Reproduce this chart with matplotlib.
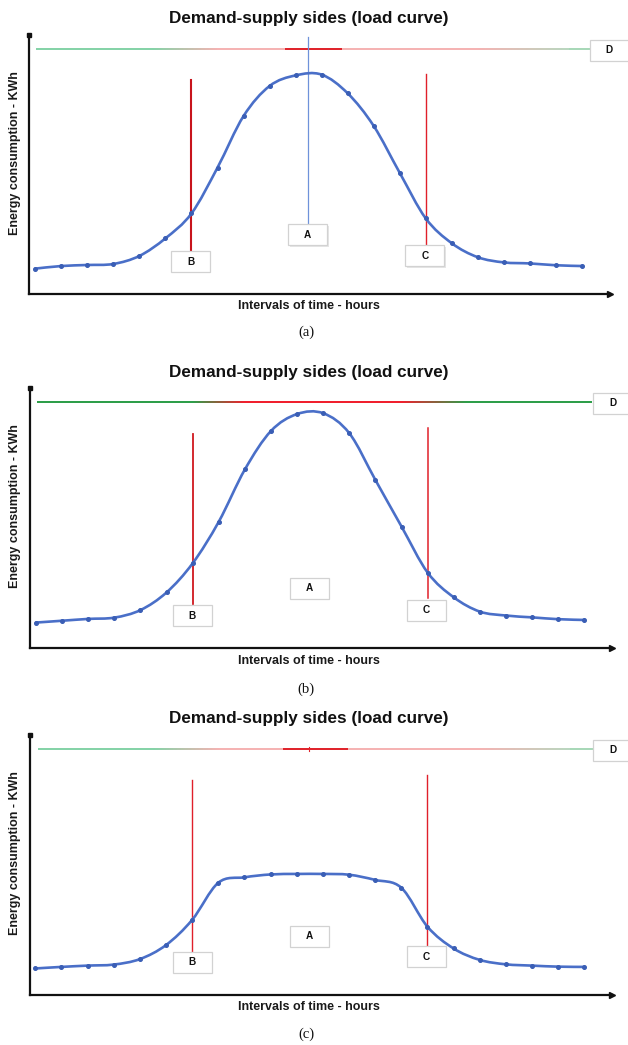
import numpy as np
import matplotlib
matplotlib.use("Agg")
import matplotlib.pyplot as plt
from matplotlib.patches import Rectangle, PathPatch
from matplotlib.path import Path
from matplotlib.transforms import ScaledTranslation
from matplotlib.colors import to_rgb

# ---------------- data ----------------
hours = list(range(22))
load_a = [9.8, 10.8, 11.2, 11.6, 14.7, 21.5, 31.1, 48.8, 68.7, 80.3, 84.4,
          84.7, 77.5, 64.9, 46.8, 29.2, 19.6, 14.2, 12.2, 11.8, 11.1, 10.8]
load_b = [9.9, 10.6, 11.3, 11.8, 14.7, 21.5, 32.7, 48.7, 68.8, 83.6, 90.1,
          90.4, 82.7, 64.7, 46.8, 29.1, 19.6, 14.1, 12.6, 11.9, 11.2, 10.9]
load_c = [10.1, 10.7, 11.2, 11.6, 13.7, 19.1, 28.8, 43.1, 45.2, 46.3, 46.5,
          46.5, 46.2, 44.2, 41.2, 26.2, 17.8, 13.4, 11.7, 11.2, 10.8, 10.7]
supply_level = 94.6
b_pos, c_pos, a_pos = 6.0, 15.0, 10.47
labels = ["A", "B", "C", "D"]
subcaptions = ["(a)", "(b)", "(c)"]
title = "Demand-supply sides (load curve)"
xlabel = "Intervals of time - hours"
ylabel = "Energy consumption - KWh"

W, H = 628, 1045
fig = plt.figure(figsize=(W / 100, H / 100), dpi=100)
fig.patch.set_facecolor("white")

BLUE = "#4a6fc8"

panels = [
    dict(load=load_a, px=(28.8, 609.5, 35, 294), xlim=(-0.25, 22.06),
         title_y=18, xl_y=306, cap_y=332, strong=False, aline=True,
         dline=(0.03, 21.28), red=(9.6, 11.8), tick=False,
         bline=(82.6, 17.0, 1.5, "#c8141c"), cline=(84.9, 18.9, 1.0, "#e0202a"),
         boxes=dict(A=(10.47, 22.8), B=(5.97, 12.5), C=(14.97, 14.7), D=(22.05, 94.2))),
    dict(load=load_b, px=(30, 611.5, 388.3, 648.3), xlim=(-0.23, 22.04),
         title_y=372, xl_y=661, cap_y=689, strong=True, aline=False,
         dline=(0.05, 21.29), red=(8.0, 14.0), tick=False,
         bline=(82.4, 17.1, 1.3, "#d0181f"), cline=(84.6, 19.2, 1.1, "#e0202a"),
         boxes=dict(A=(10.48, 23.1), B=(5.98, 12.6), C=(14.95, 14.7), D=(22.09, 94.2))),
    dict(load=load_c, px=(30, 611.5, 735, 994.7), xlim=(-0.2, 22.04),
         title_y=718, xl_y=1007, cap_y=1034, strong=False, aline=False,
         dline=(0.1, 21.36), red=(9.45, 11.95), tick=True,
         bline=(82.7, 16.9, 1.0, "#e0202a"), cline=(84.6, 19.1, 1.0, "#e0202a"),
         boxes=dict(A=(10.49, 22.6), B=(6.0, 12.5), C=(14.96, 14.6), D=(22.09, 94.2))),
]


def lerp(c1, c2, t):
    a, b = np.array(to_rgb(c1)), np.array(to_rgb(c2))
    return a + (b - a) * t


def smooth_path(xs, ys):
    """Catmull-Rom style smooth line through the points (bezier rendering)."""
    P = np.column_stack([xs, ys]).astype(float)
    n = len(P)
    verts = [P[0]]
    codes = [Path.MOVETO]
    for i in range(n - 1):
        p0 = P[i - 1] if i > 0 else P[i]
        p1, p2 = P[i], P[i + 1]
        p3 = P[i + 2] if i + 2 < n else P[i + 1]
        c1 = p1 + (p2 - p0) / 6.0
        c2 = p2 - (p3 - p1) / 6.0
        verts += [c1, c2, p2]
        codes += [Path.CURVE4] * 3
    return Path(verts, codes)


for k, p in enumerate(panels):
    l, r, t, b = p["px"]
    ax = fig.add_axes([l / W, 1 - b / H, (r - l) / W, (b - t) / H])
    ax.set_xlim(*p["xlim"])
    ax.set_ylim(0, 100)
    ax.set_xticks([])
    ax.set_yticks([])
    for s in ["top", "right"]:
        ax.spines[s].set_visible(False)
    for s in ["left", "bottom"]:
        ax.spines[s].set_linewidth(1.6)
        ax.spines[s].set_color("#111111")
    ax.patch.set_alpha(0)
    ax.plot([1.0], [0.0], marker=">", ms=4.5, color="#111111",
            transform=ax.transAxes, clip_on=False)
    ax.plot([0.0], [1.0], marker="s", ms=2.2, color="#111111",
            transform=ax.transAxes, clip_on=False)

    # supply level line D with colour gradient (drawn as a thin image strip)
    x0, x1 = p["dline"]
    xs = np.linspace(x0, x1, 400)
    r0, r1 = p["red"]
    cols = []
    for xm in xs:
        if p["strong"]:
            g, rd = "#2e9e4a", "#f0202e"
            if xm < 6.0 or xm > 16.5:
                c = lerp(g, g, 0)
            elif xm < 8.0:
                c = lerp(g, rd, (xm - 6.0) / 2.0)
            elif xm <= 14.0:
                c = lerp(rd, rd, 0)
            else:
                c = lerp(rd, g, (xm - 14.0) / 2.5)
        else:
            g, pk, rd = "#86d3a8", "#f5b3b3", "#e0252d"
            if r0 <= xm <= r1:
                c = lerp(rd, rd, 0)
            elif xm < 4.5:
                c = lerp(g, g, 0)
            elif xm < 7.0:
                c = lerp(g, pk, (xm - 4.5) / 2.5)
            elif xm < 17.0:
                c = lerp(pk, pk, 0)
            elif xm < 20.5:
                c = lerp(pk, "#b8d8c0", (xm - 17.0) / 3.5)
            else:
                c = lerp("#a8d8b8", "#a8d8b8", 0)
        cols.append(c)
    strip = np.array(cols)[None, :, :]
    half = (1.0 if p["strong"] else 0.55) * 100 / (b - t)
    ax.imshow(strip, extent=(x0, x1, supply_level - half, supply_level + half),
              aspect="auto", interpolation="nearest", zorder=2)
    if p["tick"]:
        ax.plot([a_pos, a_pos], [supply_level - 0.6, supply_level + 0.6],
                color="#e0252d", lw=0.8)

    if p["aline"]:
        ax.plot([a_pos, a_pos], [99.4, 27.5], color="#6f92da", lw=0.9)

    y0, y1, lw, col = p["bline"]
    ax.plot([b_pos, b_pos], [y0, y1], color=col, lw=lw)
    y0, y1, lw, col = p["cline"]
    ax.plot([c_pos, c_pos], [y0, y1], color=col, lw=lw)

    # load curve (smooth line + point markers)
    ax.add_patch(PathPatch(smooth_path(hours, p["load"]), facecolor="none",
                           edgecolor=BLUE, lw=1.9, capstyle="round",
                           joinstyle="round", zorder=5))
    ax.plot(hours, p["load"], linestyle="none", marker="o", ms=2.6,
            mfc="#3a5eb5", mec="#3a5eb5", zorder=6)

    bw, bh = 39 / 100, 21 / 100
    for name in labels:
        bx, by = p["boxes"][name]
        off = ScaledTranslation(bx, by, ax.transData)
        shadow = Rectangle((-bw / 2 + 0.012, -bh / 2 - 0.012), bw, bh,
                           transform=fig.dpi_scale_trans + off,
                           facecolor="#e6e6e6", edgecolor="none",
                           clip_on=False, zorder=7)
        rect = Rectangle((-bw / 2, -bh / 2), bw, bh,
                         transform=fig.dpi_scale_trans + off,
                         facecolor="white", edgecolor="#d2d2d2", lw=0.9,
                         clip_on=False, zorder=8)
        ax.add_patch(shadow)
        ax.add_patch(rect)
        ax.text(bx, by, name, ha="center", va="center", fontsize=7.2,
                fontweight="bold", family="Liberation Sans", color="#111111",
                zorder=9, clip_on=False)

    ax.set_xlim(*p["xlim"])
    ax.set_ylim(0, 100)

    fig.text(309 / W, 1 - p["title_y"] / H, title, ha="center", va="center",
             fontsize=12.3, fontweight="bold", family="Liberation Sans",
             color="#111111")
    fig.text(309 / W, 1 - p["xl_y"] / H, xlabel, ha="center", va="center",
             fontsize=9.0, fontweight="bold", family="Liberation Sans",
             color="#1a1a1a")
    fig.text(15 / W, 1 - (t + 118) / H, ylabel, ha="center", va="center",
             rotation=90, fontsize=9.0, fontweight="bold",
             family="Liberation Sans", color="#1a1a1a")
    fig.text(306 / W, 1 - p["cap_y"] / H, subcaptions[k],
             ha="center", va="center", fontsize=10.5,
             family="Liberation Serif", color="#111111")

fig.savefig("out.png", dpi=100, facecolor="white")
